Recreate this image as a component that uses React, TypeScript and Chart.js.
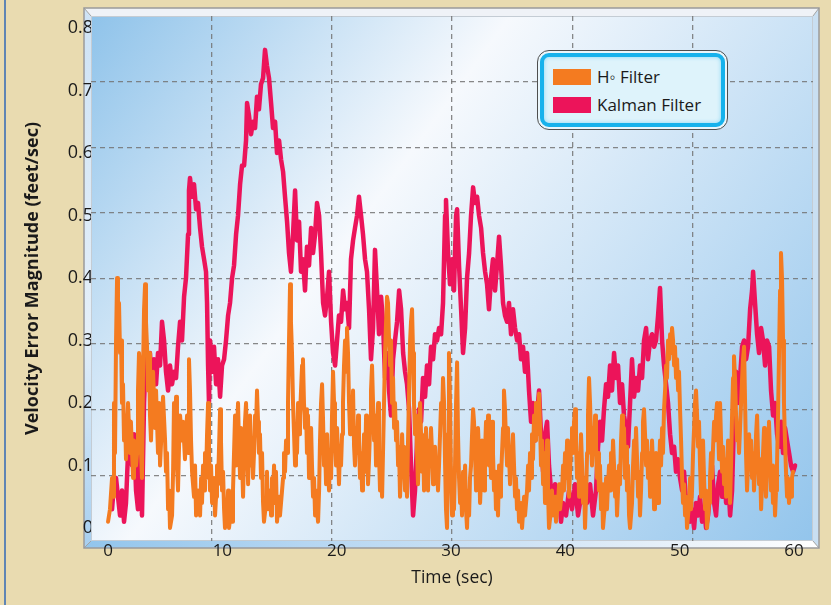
import React, { useEffect, useRef } from "react";
import { Chart, registerables } from "chart.js";

Chart.register(...registerables);

const X_TICKS = [0, 10, 20, 30, 40, 50, 60];
const Y_TICKS = [0, 0.1, 0.2, 0.3, 0.4, 0.5, 0.6, 0.7, 0.8];
const GRID_X = [10, 20, 30, 40, 50];
const GRID_Y = [0.1, 0.2, 0.3, 0.4, 0.5, 0.6, 0.7];
const SERIES_LABELS = ["H\u25E6 Filter", "Kalman Filter"];
const SERIES_COLORS = ["#f47b20", "#ec145a"];

// [time (sec), velocity error (feet/sec)]
const HINF: [number, number][] = [
  [0.0,0.01],[0.17,0.03],[0.35,0.08],[0.44,0.05],[0.52,0.2],[0.61,0.12],[0.7,0.3],[0.79,0.4],[0.87,0.33],[0.96,0.36],[1.05,0.28],[1.14,0.3],[1.22,0.2],[1.31,0.23],[1.4,0.14],[1.49,0.18],[1.57,0.11],[1.66,0.16],[1.75,0.2],[1.92,0.12],[2.0,0.17],[2.19,0.08],[2.27,0.14],[2.45,0.1],[2.54,0.12],[2.62,0.22],[2.71,0.28],[2.8,0.26],[2.89,0.12],[2.97,0.08],[3.06,0.25],[3.15,0.35],[3.24,0.39],[3.32,0.33],[3.41,0.29],[3.5,0.22],[3.59,0.28],[3.67,0.18],[3.76,0.14],[3.85,0.2],[3.94,0.25],[4.11,0.16],[4.2,0.22],[4.37,0.12],[4.46,0.2],[4.55,0.1],[4.72,0.17],[4.81,0.21],[4.99,0.14],[5.07,0.09],[5.16,0.12],[5.25,0.03],[5.34,0.06],[5.42,0.0],[5.6,0.02],[5.69,0.09],[5.77,0.2],[5.86,0.15],[5.95,0.21],[6.03,0.1],[6.12,0.06],[6.21,0.13],[6.3,0.18],[6.47,0.14],[6.56,0.17],[6.73,0.11],[6.82,0.15],[6.91,0.18],[7.0,0.12],[7.08,0.27],[7.17,0.22],[7.26,0.14],[7.35,0.09],[7.52,0.05],[7.61,0.1],[7.7,0.02],[7.87,0.06],[8.05,0.02],[8.14,0.08],[8.22,0.04],[8.31,0.1],[8.4,0.06],[8.48,0.12],[8.57,0.08],[8.66,0.15],[8.75,0.2],[8.83,0.12],[8.92,0.06],[9.01,0.1],[9.1,0.04],[9.27,0.08],[9.36,0.02],[9.45,0.05],[9.53,0.1],[9.62,0.07],[9.71,0.13],[9.8,0.19],[9.88,0.14],[9.97,0.06],
  [10.06,0.09],[10.15,0.03],[10.23,0.0],[10.41,0.02],[10.5,0.06],[10.58,0.0],[10.76,0.03],[10.85,0.01],[10.93,0.06],[11.02,0.12],[11.11,0.18],[11.2,0.1],[11.28,0.15],[11.37,0.2],[11.46,0.13],[11.55,0.08],[11.63,0.16],[11.72,0.11],[11.81,0.05],[11.9,0.12],[11.98,0.17],[12.07,0.2],[12.16,0.13],[12.25,0.07],[12.33,0.15],[12.42,0.18],[12.51,0.1],[12.59,0.14],[12.68,0.08],[12.77,0.12],[12.86,0.18],[12.94,0.16],[13.03,0.22],[13.12,0.17],[13.2,0.12],[13.29,0.15],[13.38,0.08],[13.47,0.12],[13.56,0.04],[13.64,0.01],[13.82,0.04],[13.9,0.09],[13.99,0.03],[14.17,0.06],[14.26,0.02],[14.34,0.08],[14.43,0.05],[14.52,0.1],[14.61,0.04],[14.69,0.09],[14.78,0.01],[14.96,0.05],[15.04,0.02],[15.22,0.06],[15.31,0.08],[15.39,0.12],[15.48,0.09],[15.57,0.14],[15.66,0.12],[15.74,0.2],[15.83,0.3],[15.92,0.39],[16.0,0.33],[16.09,0.28],[16.18,0.2],[16.27,0.15],[16.36,0.1],[16.44,0.16],[16.53,0.12],[16.62,0.2],[16.71,0.15],[16.79,0.18],[16.88,0.22],[16.97,0.26],[17.05,0.27],[17.14,0.2],[17.23,0.16],[17.32,0.19],[17.4,0.12],[17.49,0.18],[17.58,0.08],[17.67,0.13],[17.76,0.16],[17.84,0.1],[17.93,0.05],[18.02,0.08],[18.11,0.02],[18.19,0.06],[18.28,0.03],[18.37,0.01],[18.46,0.06],[18.54,0.14],[18.63,0.2],[18.72,0.23],[18.81,0.17],[18.89,0.1],[18.98,0.13],[19.07,0.07],[19.16,0.15],[19.24,0.1],[19.33,0.06],[19.42,0.12],[19.51,0.08],[19.59,0.18],[19.68,0.25],[19.77,0.2],[19.85,0.14],[19.94,0.1],
  [20.03,0.16],[20.12,0.12],[20.2,0.07],[20.29,0.13],[20.38,0.1],[20.47,0.15],[20.55,0.2],[20.64,0.26],[20.73,0.3],[20.82,0.25],[20.9,0.32],[20.99,0.28],[21.08,0.2],[21.17,0.15],[21.25,0.2],[21.34,0.16],[21.43,0.22],[21.52,0.13],[21.6,0.1],[21.69,0.16],[21.78,0.12],[21.87,0.18],[21.95,0.14],[22.04,0.08],[22.13,0.12],[22.22,0.06],[22.3,0.1],[22.39,0.15],[22.48,0.09],[22.57,0.18],[22.65,0.13],[22.74,0.07],[22.83,0.11],[22.92,0.16],[23.0,0.22],[23.09,0.26],[23.18,0.2],[23.27,0.14],[23.35,0.18],[23.44,0.1],[23.53,0.15],[23.62,0.2],[23.7,0.12],[23.79,0.06],[23.88,0.1],[23.97,0.05],[24.05,0.12],[24.14,0.2],[24.23,0.28],[24.32,0.33],[24.4,0.37],[24.49,0.36],[24.58,0.3],[24.67,0.26],[24.75,0.3],[24.84,0.2],[24.93,0.24],[25.02,0.16],[25.1,0.2],[25.19,0.14],[25.28,0.17],[25.37,0.1],[25.45,0.13],[25.54,0.05],[25.63,0.09],[25.72,0.15],[25.8,0.1],[25.89,0.13],[25.98,0.06],[26.07,0.1],[26.15,0.05],[26.24,0.14],[26.33,0.22],[26.42,0.3],[26.5,0.33],[26.59,0.35],[26.68,0.28],[26.76,0.2],[26.85,0.15],[26.94,0.18],[27.03,0.12],[27.11,0.07],[27.2,0.13],[27.29,0.2],[27.38,0.15],[27.46,0.09],[27.55,0.14],[27.64,0.06],[27.73,0.1],[27.81,0.16],[27.9,0.11],[27.99,0.06],[28.08,0.14],[28.16,0.1],[28.25,0.16],[28.34,0.12],[28.43,0.07],[28.51,0.1],[28.6,0.13],[28.69,0.08],[28.78,0.11],[28.86,0.06],[28.95,0.1],[29.04,0.15],[29.13,0.2],[29.21,0.17],[29.3,0.24],[29.39,0.2],[29.48,0.1],[29.56,0.03],[29.65,0.0],[29.74,0.15],[29.82,0.28],[29.91,0.2],
  [30.0,0.08],[30.09,0.02],[30.17,0.06],[30.26,0.03],[30.35,0.1],[30.44,0.2],[30.53,0.265],[30.61,0.15],[30.7,0.08],[30.79,0.04],[30.88,0.07],[30.96,0.02],[31.05,0.09],[31.14,0.05],[31.23,0.1],[31.31,0.03],[31.4,0.0],[31.49,0.06],[31.58,0.02],[31.66,0.08],[31.75,0.1],[31.84,0.15],[31.93,0.19],[32.01,0.17],[32.1,0.12],[32.19,0.06],[32.28,0.1],[32.36,0.16],[32.45,0.12],[32.54,0.04],[32.63,0.08],[32.71,0.14],[32.8,0.1],[32.89,0.06],[32.97,0.12],[33.06,0.17],[33.15,0.13],[33.24,0.18],[33.32,0.1],[33.41,0.14],[33.5,0.08],[33.59,0.17],[33.67,0.12],[33.76,0.06],[33.85,0.09],[33.93,0.03],[34.02,0.07],[34.11,0.02],[34.2,0.1],[34.29,0.05],[34.37,0.08],[34.46,0.12],[34.55,0.16],[34.63,0.22],[34.72,0.19],[34.81,0.14],[34.9,0.1],[34.98,0.16],[35.07,0.12],[35.16,0.07],[35.25,0.13],[35.33,0.09],[35.42,0.15],[35.51,0.1],[35.6,0.05],[35.68,0.08],[35.77,0.03],[35.86,0.06],[35.95,0.01],[36.12,0.04],[36.21,0.0],[36.39,0.05],[36.47,0.02],[36.65,0.06],[36.74,0.1],[36.82,0.06],[36.91,0.12],[37.0,0.08],[37.08,0.15],[37.17,0.11],[37.26,0.18],[37.35,0.14],[37.43,0.2],[37.52,0.15],[37.61,0.18],[37.7,0.215],[37.79,0.16],[37.87,0.1],[37.96,0.14],[38.05,0.07],[38.13,0.12],[38.22,0.04],[38.31,0.09],[38.4,0.14],[38.48,0.06],[38.57,0.0],[38.75,0.03],[38.83,0.06],[38.92,0.02],[39.1,0.05],[39.18,0.01],[39.36,0.04],[39.45,0.07],[39.53,0.03],[39.71,0.06],[39.8,0.1],[39.88,0.06],[39.97,0.12],
  [40.06,0.08],[40.15,0.14],[40.23,0.1],[40.32,0.05],[40.41,0.09],[40.5,0.13],[40.58,0.16],[40.67,0.12],[40.76,0.17],[40.85,0.19],[40.93,0.14],[41.02,0.08],[41.11,0.12],[41.2,0.05],[41.28,0.1],[41.37,0.15],[41.46,0.1],[41.55,0.04],[41.63,0.08],[41.72,0.0],[41.81,0.05],[41.9,0.12],[41.98,0.18],[42.07,0.24],[42.16,0.2],[42.25,0.14],[42.33,0.1],[42.42,0.16],[42.51,0.12],[42.6,0.18],[42.68,0.13],[42.77,0.08],[42.86,0.12],[42.94,0.06],[43.03,0.1],[43.12,0.03],[43.21,0.07],[43.29,0.0],[43.47,0.04],[43.56,0.08],[43.64,0.03],[43.73,0.07],[43.82,0.1],[43.91,0.06],[43.99,0.12],[44.08,0.08],[44.17,0.14],[44.26,0.1],[44.35,0.05],[44.43,0.09],[44.52,0.02],[44.61,0.06],[44.7,0.1],[44.78,0.07],[44.87,0.14],[44.96,0.18],[45.04,0.12],[45.13,0.16],[45.22,0.08],[45.31,0.13],[45.39,0.06],[45.48,0.1],[45.57,0.02],[45.66,0.0],[45.83,0.04],[45.92,0.1],[46.01,0.14],[46.09,0.08],[46.18,0.16],[46.27,0.11],[46.36,0.05],[46.44,0.09],[46.53,0.02],[46.62,0.06],[46.71,0.12],[46.79,0.17],[46.88,0.19],[46.97,0.15],[47.06,0.1],[47.14,0.14],[47.23,0.08],[47.32,0.12],[47.41,0.05],[47.49,0.09],[47.58,0.14],[47.67,0.1],[47.76,0.03],[47.84,0.07],[47.93,0.12],[48.02,0.08],[48.11,0.04],[48.19,0.09],[48.28,0.14],[48.37,0.1],[48.46,0.16],[48.54,0.12],[48.63,0.19],[48.72,0.22],[48.81,0.26],[48.89,0.24],[48.98,0.3],[49.07,0.27],[49.16,0.31],[49.24,0.28],[49.33,0.32],[49.42,0.3],[49.51,0.26],[49.59,0.29],[49.68,0.24],[49.77,0.27],[49.86,0.22],[49.94,0.25],
  [50.03,0.19],[50.12,0.14],[50.21,0.08],[50.29,0.04],[50.38,0.07],[50.47,0.02],[50.56,0.05],[50.64,0.0],[50.82,0.04],[50.91,0.08],[50.99,0.03],[51.08,0.06],[51.17,0.12],[51.26,0.16],[51.34,0.2],[51.43,0.22],[51.52,0.18],[51.61,0.13],[51.69,0.17],[51.78,0.1],[51.87,0.05],[51.96,0.09],[52.04,0.14],[52.13,0.08],[52.22,0.03],[52.31,0.06],[52.39,0.0],[52.57,0.04],[52.65,0.08],[52.74,0.12],[52.83,0.08],[52.92,0.13],[53.01,0.17],[53.09,0.14],[53.18,0.18],[53.27,0.2],[53.36,0.16],[53.44,0.11],[53.53,0.2],[53.62,0.14],[53.71,0.09],[53.79,0.13],[53.88,0.07],[53.97,0.11],[54.06,0.05],[54.14,0.09],[54.23,0.14],[54.32,0.1],[54.4,0.04],[54.49,0.1],[54.58,0.18],[54.67,0.24],[54.75,0.275],[54.84,0.24],[54.93,0.18],[55.02,0.14],[55.1,0.16],[55.19,0.12],[55.28,0.16],[55.37,0.2],[55.46,0.24],[55.54,0.27],[55.63,0.29],[55.72,0.2],[55.8,0.12],[55.89,0.06],[55.98,0.1],[56.07,0.15],[56.15,0.1],[56.24,0.14],[56.33,0.08],[56.42,0.12],[56.5,0.06],[56.59,0.1],[56.68,0.15],[56.77,0.18],[56.85,0.12],[56.94,0.07],[57.03,0.11],[57.12,0.03],[57.2,0.07],[57.29,0.12],[57.38,0.16],[57.46,0.1],[57.55,0.05],[57.64,0.1],[57.73,0.14],[57.81,0.17],[57.9,0.12],[57.99,0.06],[58.08,0.1],[58.16,0.04],[58.25,0.08],[58.34,0.02],[58.43,0.06],[58.51,0.1],[58.6,0.18],[58.69,0.28],[58.78,0.38],[58.86,0.44],[58.95,0.4],[59.04,0.3],[59.12,0.2],[59.21,0.14],[59.3,0.09],[59.39,0.05],[59.47,0.08],[59.56,0.04],[59.65,0.07],[59.74,0.05],[59.82,0.08],[59.91,0.09],
];

const KALMAN: [number, number][] = [
  [0.35,0.03],[0.52,0.07],[0.7,0.08],[0.87,0.05],[1.05,0.02],[1.22,0.06],[1.4,0.01],[1.57,0.04],[1.75,0.12],[1.92,0.17],[2.1,0.1],[2.27,0.15],[2.45,0.06],[2.62,0.03],[2.8,0.13],[2.97,0.02],[3.15,0.2],[3.32,0.28],[3.5,0.24],[3.67,0.28],[3.85,0.22],[4.02,0.27],[4.2,0.23],[4.37,0.28],[4.55,0.26],[4.72,0.33],[4.9,0.3],[5.07,0.25],[5.25,0.22],[5.42,0.26],[5.6,0.23],[5.77,0.25],[5.95,0.24],[6.12,0.29],[6.3,0.33],[6.47,0.3],[6.65,0.37],[6.82,0.4],[7.0,0.47],[7.08,0.54],[7.17,0.56],[7.35,0.53],[7.52,0.55],[7.7,0.51],[7.87,0.52],[8.05,0.48],[8.22,0.45],[8.4,0.43],[8.57,0.41],[8.66,0.36],[8.75,0.26],[8.83,0.2],[8.92,0.3],[9.1,0.25],[9.27,0.29],[9.45,0.23],[9.62,0.27],[9.8,0.21],[9.97,0.26],
  [10.15,0.27],[10.32,0.3],[10.5,0.34],[10.67,0.36],[10.85,0.4],[11.02,0.42],[11.2,0.47],[11.37,0.5],[11.55,0.55],[11.72,0.58],[11.9,0.58],[12.07,0.62],[12.16,0.68],[12.33,0.66],[12.51,0.63],[12.68,0.65],[12.86,0.64],[13.03,0.69],[13.2,0.67],[13.38,0.71],[13.56,0.72],[13.73,0.765],[13.9,0.74],[14.08,0.72],[14.26,0.68],[14.43,0.64],[14.61,0.65],[14.78,0.6],[14.96,0.62],[15.13,0.59],[15.31,0.57],[15.48,0.53],[15.66,0.49],[15.83,0.44],[16.0,0.41],[16.18,0.47],[16.36,0.54],[16.53,0.46],[16.71,0.49],[16.88,0.41],[17.05,0.43],[17.23,0.38],[17.4,0.45],[17.58,0.42],[17.76,0.48],[17.93,0.44],[18.11,0.47],[18.28,0.52],[18.46,0.5],[18.63,0.44],[18.81,0.36],[18.98,0.34],[19.16,0.37],[19.33,0.41],[19.51,0.33],[19.68,0.28],[19.86,0.26],
  [20.03,0.3],[20.2,0.34],[20.38,0.33],[20.56,0.38],[20.73,0.35],[20.9,0.36],[21.08,0.32],[21.25,0.43],[21.43,0.46],[21.6,0.48],[21.78,0.5],[21.95,0.53],[22.13,0.5],[22.3,0.47],[22.48,0.43],[22.65,0.41],[22.83,0.35],[23.0,0.27],[23.18,0.32],[23.35,0.445],[23.53,0.38],[23.7,0.31],[23.88,0.37],[24.05,0.33],[24.23,0.24],[24.4,0.28],[24.58,0.22],[24.75,0.18],[24.93,0.27],[25.1,0.3],[25.28,0.33],[25.46,0.38],[25.63,0.35],[25.81,0.28],[25.98,0.25],[26.15,0.23],[26.33,0.19],[26.5,0.1],[26.68,0.02],[26.85,0.06],[27.03,0.14],[27.2,0.19],[27.38,0.17],[27.55,0.24],[27.73,0.21],[27.9,0.26],[28.08,0.23],[28.25,0.29],[28.43,0.27],[28.6,0.31],[28.78,0.3],[28.95,0.32],[29.13,0.31],[29.3,0.36],[29.48,0.5],[29.56,0.525],[29.74,0.44],[29.91,0.39],
  [30.09,0.43],[30.26,0.38],[30.44,0.5],[30.53,0.51],[30.7,0.42],[30.88,0.35],[31.05,0.28],[31.23,0.32],[31.4,0.4],[31.58,0.44],[31.75,0.5],[31.93,0.545],[32.1,0.52],[32.28,0.53],[32.45,0.5],[32.63,0.48],[32.8,0.44],[32.98,0.41],[33.15,0.39],[33.32,0.35],[33.5,0.4],[33.67,0.43],[33.85,0.38],[34.02,0.42],[34.2,0.466],[34.37,0.42],[34.55,0.36],[34.72,0.34],[34.9,0.33],[35.07,0.36],[35.25,0.31],[35.42,0.35],[35.6,0.32],[35.78,0.3],[35.95,0.31],[36.12,0.27],[36.3,0.29],[36.47,0.25],[36.65,0.28],[36.82,0.22],[37.0,0.17],[37.17,0.2],[37.35,0.14],[37.52,0.18],[37.7,0.22],[37.87,0.15],[38.05,0.09],[38.22,0.15],[38.4,0.17],[38.57,0.1],[38.75,0.06],[38.92,0.04],[39.1,0.07],[39.27,0.03],[39.45,0.06],[39.62,0.01],[39.8,0.04],
  [40.06,0.02],[40.32,0.06],[40.58,0.03],[40.85,0.07],[41.11,0.02],[41.37,0.05],[41.63,0.08],[41.9,0.04],[42.16,0.07],[42.42,0.02],[42.68,0.06],[42.86,0.13],[43.03,0.17],[43.21,0.14],[43.38,0.19],[43.56,0.23],[43.73,0.21],[43.91,0.26],[44.08,0.22],[44.26,0.28],[44.43,0.24],[44.61,0.26],[44.78,0.2],[44.96,0.23],[45.13,0.18],[45.31,0.16],[45.48,0.13],[45.66,0.2],[45.83,0.27],[46.01,0.21],[46.18,0.24],[46.36,0.22],[46.53,0.26],[46.71,0.24],[46.88,0.3],[47.06,0.32],[47.23,0.27],[47.41,0.3],[47.58,0.31],[47.76,0.29],[47.93,0.3],[48.11,0.34],[48.28,0.384],[48.46,0.3],[48.63,0.26],[48.81,0.23],[48.98,0.2],[49.16,0.15],[49.33,0.12],[49.51,0.13],[49.68,0.09],[49.86,0.11],
  [50.03,0.08],[50.21,0.06],[50.38,0.09],[50.56,0.04],[50.73,0.05],[50.91,0.01],[51.08,0.03],[51.26,0.0],[51.43,0.04],[51.61,0.02],[51.78,0.05],[51.96,0.01],[52.13,0.03],[52.31,0.0],[52.48,0.02],[52.66,0.06],[52.83,0.1],[53.01,0.04],[53.18,0.02],[53.36,0.07],[53.53,0.09],[53.71,0.05],[53.88,0.1],[54.06,0.04],[54.23,0.08],[54.41,0.02],[54.58,0.06],[54.76,0.18],[54.93,0.25],[55.11,0.2],[55.28,0.24],[55.46,0.29],[55.63,0.3],[55.81,0.27],[55.98,0.29],[56.16,0.35],[56.33,0.38],[56.42,0.41],[56.59,0.36],[56.77,0.31],[56.94,0.28],[57.12,0.32],[57.29,0.3],[57.47,0.26],[57.64,0.3],[57.82,0.29],[57.99,0.22],[58.17,0.18],[58.34,0.2],[58.52,0.15],[58.69,0.13],[58.87,0.17],[59.04,0.12],[59.22,0.16],[59.39,0.14],[59.57,0.12],[59.74,0.1],[59.92,0.09],[60.09,0.1],
];

const FONT = "'Open Sans', 'Noto Sans', sans-serif";

const plotFrame = {
  id: "plotFrame",
  beforeDraw(chart: any) {
    const { ctx, chartArea } = chart;
    const { left, top, right, bottom } = chartArea;
    const oL = left - 7, oT = top - 8, oR = right + 6, oB = bottom + 7;
    const poly = (pts: number[][], fill: any) => {
      ctx.beginPath();
      ctx.moveTo(pts[0][0], pts[0][1]);
      for (let i = 1; i < pts.length; i++) ctx.lineTo(pts[i][0], pts[i][1]);
      ctx.closePath();
      ctx.fillStyle = fill;
      ctx.fill();
    };
    ctx.save();
    const g = ctx.createLinearGradient(left, top, right, bottom);
    g.addColorStop(0, "#8fc3ea");
    g.addColorStop(0.38, "#f6f9fd");
    g.addColorStop(1, "#93c5ec");
    ctx.fillStyle = g;
    ctx.fillRect(left, top, right - left, bottom - top);
    poly([[oL, oT], [oR, oT], [right, top], [left, top]], "#eff2f7");
    const lg = ctx.createLinearGradient(0, top, 0, bottom);
    lg.addColorStop(0, "#cfe3f5");
    lg.addColorStop(0.6, "#e4eff9");
    lg.addColorStop(1, "#a9d0f0");
    poly([[oL, oT], [left, top], [left, bottom], [oL, oB]], lg);
    const bg = ctx.createLinearGradient(oL, 0, oR, 0);
    bg.addColorStop(0, "#92c5ec");
    bg.addColorStop(0.3, "#b5d6f2");
    bg.addColorStop(0.6, "#cfe3f5");
    bg.addColorStop(0.9, "#f4f8fc");
    bg.addColorStop(1, "#ffffff");
    poly([[oL, oB], [left, bottom], [right, bottom], [oR, oB]], bg);
    poly([[oR, oT], [oR, oB], [right, bottom], [right, top]], "#c9dff2");
    ctx.strokeStyle = "#a3a3a3";
    ctx.lineWidth = 1;
    ctx.beginPath();
    ctx.moveTo(oL, oT); ctx.lineTo(left, top);
    ctx.moveTo(oR, oT); ctx.lineTo(right, top);
    ctx.moveTo(oL, oB); ctx.lineTo(left, bottom);
    ctx.moveTo(oR, oB); ctx.lineTo(right, bottom);
    ctx.stroke();
    ctx.strokeStyle = "#c4ccd4";
    ctx.strokeRect(left + 0.5, top + 0.5, right - left - 1, bottom - top - 1);
    ctx.strokeStyle = "#9a9a9a";
    ctx.lineWidth = 1.5;
    ctx.strokeRect(oL, oT, oR - oL, oB - oT);
    ctx.restore();
  },
};

export default function App() {
  const canvasRef = useRef<HTMLCanvasElement | null>(null);

  useEffect(() => {
    const canvas = canvasRef.current;
    if (!canvas) return;
    const chart = new Chart(canvas, {
      type: "line",
      data: {
        datasets: [
          {
            label: SERIES_LABELS[0],
            data: HINF.map(([t, v]) => ({ x: t, y: v })),
            borderColor: SERIES_COLORS[0],
            backgroundColor: SERIES_COLORS[0],
            borderWidth: 4,
            pointRadius: 0,
            tension: 0,
            borderJoinStyle: "round",
            borderCapStyle: "round",
            xAxisID: "x",
            yAxisID: "y",
          },
          {
            label: SERIES_LABELS[1],
            data: KALMAN.map(([t, v]) => ({ x: t, y: v })),
            borderColor: SERIES_COLORS[1],
            backgroundColor: SERIES_COLORS[1],
            borderWidth: 4.5,
            pointRadius: 0,
            tension: 0,
            borderJoinStyle: "round",
            borderCapStyle: "round",
            xAxisID: "x",
            yAxisID: "y",
          },
        ],
      },
      options: {
        animation: false,
        responsive: true,
        maintainAspectRatio: false,
        layout: { padding: { top: 16, right: 18, left: 0, bottom: 0 } },
        plugins: {
          legend: { display: false },
          tooltip: { enabled: false },
        },
        scales: {
          x: {
            type: "linear",
            position: "bottom",
            min: -1.49,
            max: 61.66,
            afterFit: (s: any) => { s.height = 64; },
            afterBuildTicks: (s: any) => { s.ticks = X_TICKS.map((v) => ({ value: v })); },
            grid: { display: false, drawTicks: false },
            border: { display: false },
            ticks: {
              autoSkip: false,
              maxRotation: 0,
              padding: 0,
              color: "#1a1a1a",
              font: { family: FONT, size: 17 },
              callback: (v: any) => String(v),
            },
            title: {
              display: true,
              text: "Time (sec)",
              color: "#1a1a1a",
              font: { family: FONT, size: 17.5 },
              padding: { top: 0, bottom: 16.5 },
            },
          },
          x2: {
            type: "linear",
            position: "top",
            min: 0,
            max: 60,
            afterFit: (s: any) => { s.height = 0; },
            afterBuildTicks: (s: any) => { s.ticks = GRID_X.map((v) => ({ value: v })); },
            ticks: { display: false },
            grid: { color: "rgba(115,115,115,0.85)", lineWidth: 1.3, drawTicks: false },
            border: { display: false, dash: [5, 4] },
          },
          y: {
            type: "linear",
            position: "left",
            min: -0.0208,
            max: 0.8192,
            afterFit: (s: any) => { s.width = 91; },
            afterBuildTicks: (s: any) => { s.ticks = Y_TICKS.map((v) => ({ value: v })); },
            grid: { display: false, drawTicks: false },
            border: { display: false },
            ticks: {
              autoSkip: false,
              padding: -2,
              color: "#1a1a1a",
              font: { family: FONT, size: 18 },
              callback: (v: any) => (v === 0 ? "0" : Number(v).toFixed(1)),
            },
            title: {
              display: true,
              text: "Velocity Error Magnitude (feet/sec)",
              color: "#1a1a1a",
              font: { family: FONT, size: 18, weight: "bold" },
              padding: { top: 22, bottom: 0 },
            },
          },
          y2: {
            type: "linear",
            position: "right",
            min: 0,
            max: 0.8,
            afterFit: (s: any) => { s.width = 0; },
            afterBuildTicks: (s: any) => { s.ticks = GRID_Y.map((v) => ({ value: v })); },
            ticks: { display: false },
            grid: { color: "rgba(115,115,115,0.85)", lineWidth: 1.3, drawTicks: false },
            border: { display: false, dash: [5, 4] },
          },
        },
      },
      plugins: [plotFrame],
    });
    return () => chart.destroy();
  }, []);

  const swatch = (color: string) => ({
    width: 38,
    height: 16,
    background: color,
    flex: "0 0 auto",
  });

  return (
    <div style={{ position: "relative", width: 831, height: 605, background: "#e9dbb0", overflow: "hidden" }}>
      <style>{`body{margin:0}`}</style>
      <div style={{ position: "absolute", left: 4, top: 0, width: 1.5, height: 605, background: "#5f85b4" }} />
      <canvas ref={canvasRef} style={{ position: "absolute", left: 0, top: 0, width: 831, height: 605 }} />
      <div
        style={{
          position: "absolute",
          left: 537,
          top: 50,
          width: 191,
          height: 80,
          boxSizing: "border-box",
          border: "1.5px solid #4e4e4e",
          borderRadius: 12,
          background: "#eaf6fb",
          padding: 2,
          fontFamily: FONT,
        }}
      >
        <div
          style={{
            position: "relative",
            width: "100%",
            height: "100%",
            boxSizing: "border-box",
            border: "4px solid #17b2ec",
            borderRadius: 9,
            background: "#def3fb",
            boxShadow: "inset 0 0 4px #8ad8f4",
          }}
        >
          {SERIES_LABELS.map((label, i) => (
            <div
              key={label}
              style={{
                position: "absolute",
                left: 9,
                top: 10 + i * 28,
                height: 20,
                display: "flex",
                alignItems: "center",
                gap: 6,
                whiteSpace: "nowrap",
              }}
            >
              <div style={swatch(SERIES_COLORS[i])} />
              <span style={{ fontSize: 17, color: "#1a1a1a", lineHeight: "20px" }}>{label}</span>
            </div>
          ))}
        </div>
      </div>
    </div>
  );
}
